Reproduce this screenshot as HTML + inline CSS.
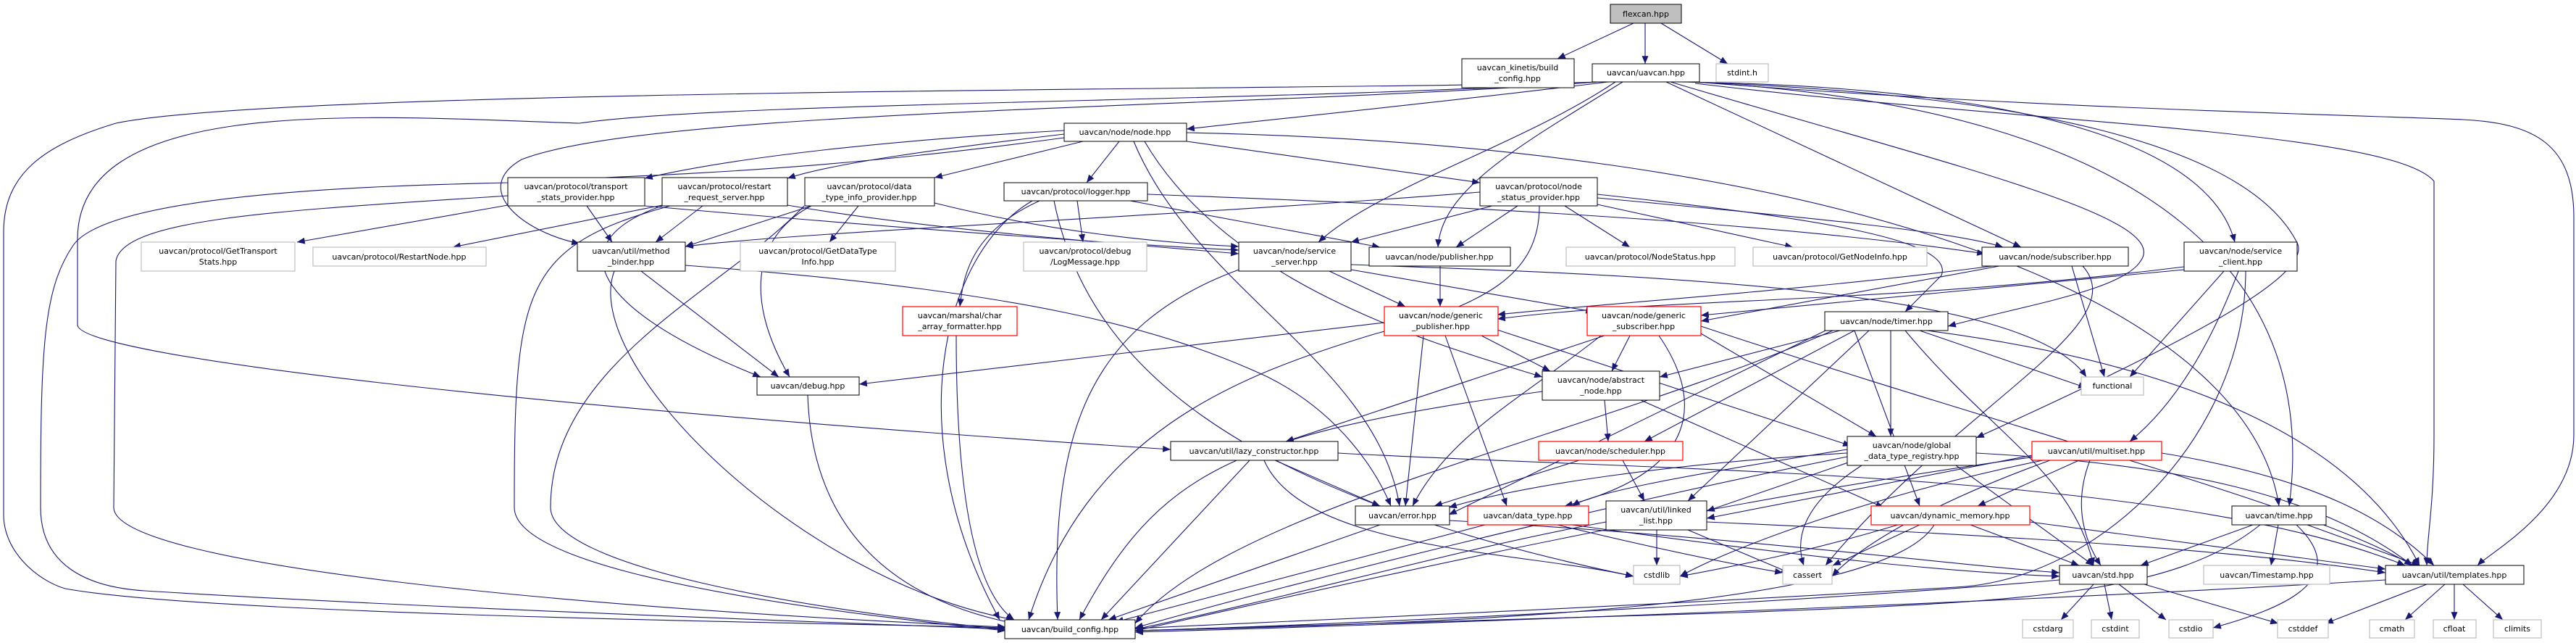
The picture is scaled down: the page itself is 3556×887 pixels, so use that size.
<!DOCTYPE html>
<html><head><meta charset="utf-8"><style>
html,body{margin:0;padding:0;background:#fff;width:3556px;height:887px;overflow:hidden}
svg{display:block}
text{font-family:"DejaVu Sans","Liberation Sans",sans-serif;font-size:11px;fill:#000}
.e{fill:none;stroke:#191970;stroke-width:1.1;marker-end:url(#a)}
.n rect{fill:#fff;stroke:#000;stroke-width:1}
.g rect{fill:#fff;stroke:#bfbfbf;stroke-width:1.2}
.r rect{fill:#fff;stroke:#ff0000;stroke-width:1.2}
</style></head><body>
<svg width="3556" height="887" viewBox="0 0 3556 887" xmlns="http://www.w3.org/2000/svg">
<defs><marker id="a" viewBox="0 0 12 10" refX="12" refY="5" markerWidth="12" markerHeight="9" markerUnits="userSpaceOnUse" orient="auto"><path d="M0,0 L12,5 L0,10 z" fill="#191970"/></marker></defs>
<g>
<path class="e" d="M2255,32 L2150,81"/>
<path class="e" d="M2271,32 L2271,88"/>
<path class="e" d="M2293,32 L2385,88"/>
<path class="e" d="M2220,113 C2000,140 1800,160 1638,178"/>
<path class="e" d="M2205,113 C1900,125 400,120 160,170 C60,200 5,240 5,320 L5,710 C5,760 50,800 90,812 C300,850 1200,860 1388,866"/>
<path class="e" d="M2205,113 C1800,140 1000,140 800,170 C500,160 107,130 107,330 L107,448 C107,490 700,560 1616,620"/>
<path class="e" d="M2205,113 C1700,150 900,150 720,220 C650,260 720,320 800,336"/>
<path class="e" d="M2230,113 C2100,200 1900,260 1820,334"/>
<path class="e" d="M2240,113 C2100,200 1990,260 1985,341"/>
<path class="e" d="M2300,113 L2790,341"/>
<path class="e" d="M2306,113 C2700,230 3000,300 2955,360 C2930,400 2800,420 2689,450"/>
<path class="e" d="M2320,113 C2800,120 3050,200 3085,334"/>
<path class="e" d="M2330,113 C2800,130 3100,200 3170,333 C3200,380 3000,480 2728,604"/>
<path class="e" d="M2335,113 C3000,150 3200,400 3160,698"/>
<path class="e" d="M2340,113 C2800,150 3300,160 3400,165 C3500,170 3553,200 3553,300 L3553,600 C3553,700 3440,760 3420,780"/>
<path class="e" d="M2340,115 C2800,170 3300,180 3360,250 L3360,600 C3360,700 3350,740 3350,780"/>
<path class="e" d="M1469,180 C1200,195 1000,220 890,246"/>
<path class="e" d="M1469,185 C1300,205 1150,225 1087,246"/>
<path class="e" d="M1495,195 L1290,245"/>
<path class="e" d="M1545,195 L1500,252"/>
<path class="e" d="M1638,195 L2043,252"/>
<path class="e" d="M1469,190 C1100,240 900,240 700,252 C600,255 150,260 100,340 C60,400 56,480 56,700 C56,780 120,810 200,815 C600,840 1200,860 1388,868"/>
<path class="e" d="M1565,195 C1650,400 1900,500 1932,698"/>
<path class="e" d="M1580,195 C1700,400 2000,480 2129,520"/>
<path class="e" d="M1638,183 C2500,200 3100,400 3146,698"/>
<path class="e" d="M701,283 L410,334"/>
<path class="e" d="M810,284 L845,334"/>
<path class="e" d="M890,284 C1300,320 1600,340 1710,345"/>
<path class="e" d="M701,270 C400,290 170,300 160,360 L157,700 C157,780 800,840 1388,865"/>
<path class="e" d="M914,283 L625,341"/>
<path class="e" d="M970,284 L905,334"/>
<path class="e" d="M1087,283 C1300,320 1600,340 1710,350"/>
<path class="e" d="M914,284 C780,330 800,420 1050,520"/>
<path class="e" d="M925,284 C720,340 710,400 710,700 C710,760 900,820 1388,870"/>
<path class="e" d="M1185,284 L1145,334"/>
<path class="e" d="M1120,284 L946,340"/>
<path class="e" d="M1290,280 C1450,320 1600,335 1710,340"/>
<path class="e" d="M1120,284 C1050,320 1020,400 1090,520"/>
<path class="e" d="M1110,284 C1000,400 760,500 760,700 C760,780 1100,840 1388,868"/>
<path class="e" d="M1487,277 L1495,334"/>
<path class="e" d="M1435,277 C1340,320 1330,380 1325,423"/>
<path class="e" d="M1560,277 L1905,341"/>
<path class="e" d="M1425,277 C1300,350 1240,600 1380,855"/>
<path class="e" d="M1455,277 C1500,500 1700,680 2255,795"/>
<path class="e" d="M1584,268 C1900,280 2400,300 2740,350"/>
<path class="e" d="M2043,265 C1600,300 1100,320 946,340"/>
<path class="e" d="M2060,284 L1865,334"/>
<path class="e" d="M2095,284 L2010,341"/>
<path class="e" d="M2160,284 L2250,341"/>
<path class="e" d="M2205,282 L2475,341"/>
<path class="e" d="M2205,273 C2500,300 2700,320 2765,341"/>
<path class="e" d="M2205,268 C2500,300 2700,330 2680,380 L2630,430"/>
<path class="e" d="M2125,284 C2125,380 2050,420 1900,460 C1700,520 1500,600 1420,855"/>
<path class="e" d="M885,374 L1075,520"/>
<path class="e" d="M848,374 C800,500 1100,800 1400,855"/>
<path class="e" d="M946,366 C1400,400 1600,450 1750,520 C1850,570 1900,650 1920,698"/>
<path class="e" d="M1835,374 L1940,423"/>
<path class="e" d="M1865,372 L2200,430"/>
<path class="e" d="M1710,372 C1500,450 1450,600 1460,855"/>
<path class="e" d="M1865,365 C2300,380 2800,400 2880,520"/>
<path class="e" d="M1988,367 L1988,423"/>
<path class="e" d="M2750,367 C2500,400 2200,420 2067,434"/>
<path class="e" d="M2760,367 L2348,443"/>
<path class="e" d="M2860,367 L2905,520"/>
<path class="e" d="M2875,367 C2950,450 2700,560 2520,780"/>
<path class="e" d="M3015,372 L2348,435"/>
<path class="e" d="M3070,374 L2940,520"/>
<path class="e" d="M3090,374 C3050,480 3000,560 2940,609"/>
<path class="e" d="M3100,374 C3100,600 2900,800 2700,810 C2200,840 1700,860 1567,867"/>
<path class="e" d="M3015,368 C2600,420 2300,410 2067,440"/>
<path class="e" d="M1911,445 L1186,530"/>
<path class="e" d="M2045,463 L2140,512"/>
<path class="e" d="M1965,463 L1940,698"/>
<path class="e" d="M1995,463 L2080,698"/>
<path class="e" d="M2067,455 L2555,615"/>
<path class="e" d="M2250,463 L2225,512"/>
<path class="e" d="M2210,463 C2100,550 2000,600 1950,698"/>
<path class="e" d="M2290,463 C2350,550 2350,650 2160,698"/>
<path class="e" d="M2215,463 L1775,609"/>
<path class="e" d="M2348,460 L2590,602"/>
<path class="e" d="M2348,450 C2800,600 3200,700 3330,780"/>
<path class="e" d="M2540,456 L2291,520"/>
<path class="e" d="M2560,456 L2270,609"/>
<path class="e" d="M2610,456 L2610,602"/>
<path class="e" d="M2650,456 L2880,535"/>
<path class="e" d="M2580,456 L2330,691"/>
<path class="e" d="M2630,456 C2750,600 2860,650 2890,780"/>
<path class="e" d="M2660,456 C3000,500 3250,600 3340,780"/>
<path class="e" d="M2530,456 C2200,600 1700,700 1567,860"/>
<path class="e" d="M2520,456 L2000,710"/>
<path class="e" d="M2560,456 L2650,698"/>
<path class="e" d="M1320,463 C1320,700 1350,820 1400,855"/>
<path class="e" d="M1115,545 C1120,700 1200,820 1400,860"/>
<path class="e" d="M2215,552 L2220,609"/>
<path class="e" d="M2265,552 L2600,700"/>
<path class="e" d="M2129,540 C1700,600 1600,650 1490,855"/>
<path class="e" d="M1760,635 L1905,698"/>
<path class="e" d="M1745,635 C1800,760 2100,760 2255,795"/>
<path class="e" d="M1725,635 L1520,855"/>
<path class="e" d="M1847,625 C2300,650 3000,650 3320,780"/>
<path class="e" d="M2180,635 L1980,698"/>
<path class="e" d="M2240,635 L2270,691"/>
<path class="e" d="M2550,620 C2300,660 2200,680 2170,698"/>
<path class="e" d="M2560,635 L2356,705"/>
<path class="e" d="M2700,642 L2890,780"/>
<path class="e" d="M2570,642 C2480,700 2480,750 2490,780"/>
<path class="e" d="M2728,625 C3000,640 3200,680 3330,780"/>
<path class="e" d="M2550,630 C2200,700 1800,800 1567,866"/>
<path class="e" d="M2550,625 C2300,640 2100,670 2000,700"/>
<path class="e" d="M2870,635 L2730,698"/>
<path class="e" d="M2830,635 C2650,700 2560,760 2529,795"/>
<path class="e" d="M2885,635 C2860,700 2880,750 2900,780"/>
<path class="e" d="M2820,635 C2600,680 2400,750 2319,795"/>
<path class="e" d="M2810,630 C2300,700 1800,820 1567,870"/>
<path class="e" d="M2984,625 C3200,660 3300,720 3360,780"/>
<path class="e" d="M2805,628 L2356,715"/>
<path class="e" d="M1905,724 L1530,855"/>
<path class="e" d="M2000,718 C2400,740 2700,780 2843,790"/>
<path class="e" d="M2050,724 L1540,858"/>
<path class="e" d="M2150,724 C2300,760 2400,780 2461,790"/>
<path class="e" d="M2170,724 C2500,770 2700,790 2843,795"/>
<path class="e" d="M2287,731 L2287,780"/>
<path class="e" d="M2330,731 L2470,790"/>
<path class="e" d="M2356,720 C2800,740 3100,760 3293,790"/>
<path class="e" d="M2217,720 C2000,760 1800,820 1567,868"/>
<path class="e" d="M2720,724 L2870,780"/>
<path class="e" d="M2650,724 L2530,780"/>
<path class="e" d="M2620,724 C2500,760 2400,780 2319,795"/>
<path class="e" d="M2670,724 C2600,840 2000,860 1567,870"/>
<path class="e" d="M2802,720 L3293,785"/>
<path class="e" d="M3110,724 L2955,780"/>
<path class="e" d="M3145,724 L3135,780"/>
<path class="e" d="M3170,724 C3250,800 3150,840 3055,866"/>
<path class="e" d="M3185,724 L3340,780"/>
<path class="e" d="M3120,724 C3000,820 2800,830 2400,845 C1900,860 1700,868 1567,870"/>
<path class="e" d="M2890,806 L2845,855"/>
<path class="e" d="M2905,806 L2915,855"/>
<path class="e" d="M2925,806 L2990,855"/>
<path class="e" d="M2960,806 L3145,860"/>
<path class="e" d="M2843,800 C2500,830 1900,860 1567,870"/>
<path class="e" d="M3350,806 L3210,860"/>
<path class="e" d="M3375,806 L3320,855"/>
<path class="e" d="M3388,806 L3388,855"/>
<path class="e" d="M3400,806 L3455,855"/>
<path class="e" d="M3293,800 C2800,830 2000,860 1567,872"/>
</g>
<g>
<g class="n"><rect x="2223" y="6" width="98" height="26" style="fill:#bfbfbf"/><text x="2272" y="23" text-anchor="middle">flexcan.hpp</text></g>
<g class="n"><rect x="2018" y="81" width="155" height="40"/><text x="2095" y="97" text-anchor="middle">uavcan_kinetis/build</text><text x="2095" y="112" text-anchor="middle">_config.hpp</text></g>
<g class="n"><rect x="2198" y="88" width="148" height="25"/><text x="2272" y="104" text-anchor="middle">uavcan/uavcan.hpp</text></g>
<g class="g"><rect x="2369" y="88" width="72" height="25"/><text x="2405" y="104" text-anchor="middle">stdint.h</text></g>
<g class="n"><rect x="1469" y="170" width="169" height="25"/><text x="1553" y="186" text-anchor="middle">uavcan/node/node.hpp</text></g>
<g class="n"><rect x="701" y="245" width="189" height="39"/><text x="795" y="261" text-anchor="middle">uavcan/protocol/transport</text><text x="795" y="276" text-anchor="middle">_stats_provider.hpp</text></g>
<g class="n"><rect x="914" y="245" width="173" height="39"/><text x="1000" y="261" text-anchor="middle">uavcan/protocol/restart</text><text x="1000" y="276" text-anchor="middle">_request_server.hpp</text></g>
<g class="n"><rect x="1111" y="245" width="179" height="39"/><text x="1200" y="261" text-anchor="middle">uavcan/protocol/data</text><text x="1200" y="276" text-anchor="middle">_type_info_provider.hpp</text></g>
<g class="n"><rect x="1386" y="252" width="198" height="25"/><text x="1485" y="268" text-anchor="middle">uavcan/protocol/logger.hpp</text></g>
<g class="n"><rect x="2043" y="245" width="162" height="39"/><text x="2124" y="261" text-anchor="middle">uavcan/protocol/node</text><text x="2124" y="276" text-anchor="middle">_status_provider.hpp</text></g>
<g class="g"><rect x="195" y="334" width="212" height="40"/><text x="301" y="350" text-anchor="middle">uavcan/protocol/GetTransport</text><text x="301" y="365" text-anchor="middle">Stats.hpp</text></g>
<g class="g"><rect x="432" y="341" width="239" height="26"/><text x="551" y="358" text-anchor="middle">uavcan/protocol/RestartNode.hpp</text></g>
<g class="n"><rect x="797" y="334" width="149" height="40"/><text x="871" y="350" text-anchor="middle">uavcan/util/method</text><text x="871" y="365" text-anchor="middle">_binder.hpp</text></g>
<g class="g"><rect x="1022" y="334" width="214" height="40"/><text x="1129" y="350" text-anchor="middle">uavcan/protocol/GetDataType</text><text x="1129" y="365" text-anchor="middle">Info.hpp</text></g>
<g class="g"><rect x="1413" y="334" width="170" height="40"/><text x="1498" y="350" text-anchor="middle">uavcan/protocol/debug</text><text x="1498" y="365" text-anchor="middle">/LogMessage.hpp</text></g>
<g class="n"><rect x="1710" y="334" width="155" height="40"/><text x="1787" y="350" text-anchor="middle">uavcan/node/service</text><text x="1787" y="365" text-anchor="middle">_server.hpp</text></g>
<g class="n"><rect x="1890" y="341" width="195" height="26"/><text x="1987" y="358" text-anchor="middle">uavcan/node/publisher.hpp</text></g>
<g class="g"><rect x="2162" y="341" width="233" height="26"/><text x="2278" y="358" text-anchor="middle">uavcan/protocol/NodeStatus.hpp</text></g>
<g class="g"><rect x="2420" y="341" width="240" height="26"/><text x="2540" y="358" text-anchor="middle">uavcan/protocol/GetNodeInfo.hpp</text></g>
<g class="n"><rect x="2736" y="341" width="202" height="26"/><text x="2837" y="358" text-anchor="middle">uavcan/node/subscriber.hpp</text></g>
<g class="n"><rect x="3015" y="334" width="156" height="40"/><text x="3093" y="350" text-anchor="middle">uavcan/node/service</text><text x="3093" y="365" text-anchor="middle">_client.hpp</text></g>
<g class="r"><rect x="1246" y="423" width="158" height="40"/><text x="1325" y="439" text-anchor="middle">uavcan/marshal/char</text><text x="1325" y="454" text-anchor="middle">_array_formatter.hpp</text></g>
<g class="r"><rect x="1911" y="423" width="157" height="40"/><text x="1989" y="439" text-anchor="middle">uavcan/node/generic</text><text x="1989" y="454" text-anchor="middle">_publisher.hpp</text></g>
<g class="r"><rect x="2191" y="423" width="157" height="40"/><text x="2269" y="439" text-anchor="middle">uavcan/node/generic</text><text x="2269" y="454" text-anchor="middle">_subscriber.hpp</text></g>
<g class="n"><rect x="2519" y="430" width="170" height="26"/><text x="2604" y="447" text-anchor="middle">uavcan/node/timer.hpp</text></g>
<g class="n"><rect x="1045" y="520" width="141" height="25"/><text x="1115" y="536" text-anchor="middle">uavcan/debug.hpp</text></g>
<g class="g"><rect x="2873" y="520" width="86" height="25"/><text x="2916" y="536" text-anchor="middle">functional</text></g>
<g class="n"><rect x="2129" y="512" width="162" height="40"/><text x="2210" y="528" text-anchor="middle">uavcan/node/abstract</text><text x="2210" y="543" text-anchor="middle">_node.hpp</text></g>
<g class="n"><rect x="1616" y="609" width="231" height="26"/><text x="1731" y="626" text-anchor="middle">uavcan/util/lazy_constructor.hpp</text></g>
<g class="r"><rect x="2124" y="609" width="199" height="26"/><text x="2223" y="626" text-anchor="middle">uavcan/node/scheduler.hpp</text></g>
<g class="n"><rect x="2550" y="602" width="178" height="40"/><text x="2639" y="618" text-anchor="middle">uavcan/node/global</text><text x="2639" y="633" text-anchor="middle">_data_type_registry.hpp</text></g>
<g class="r"><rect x="2805" y="609" width="179" height="26"/><text x="2894" y="626" text-anchor="middle">uavcan/util/multiset.hpp</text></g>
<g class="n"><rect x="1871" y="698" width="130" height="26"/><text x="1936" y="715" text-anchor="middle">uavcan/error.hpp</text></g>
<g class="r"><rect x="2026" y="698" width="167" height="26"/><text x="2109" y="715" text-anchor="middle">uavcan/data_type.hpp</text></g>
<g class="n"><rect x="2217" y="691" width="139" height="40"/><text x="2286" y="707" text-anchor="middle">uavcan/util/linked</text><text x="2286" y="722" text-anchor="middle">_list.hpp</text></g>
<g class="r"><rect x="2583" y="698" width="219" height="26"/><text x="2692" y="715" text-anchor="middle">uavcan/dynamic_memory.hpp</text></g>
<g class="n"><rect x="3081" y="698" width="130" height="26"/><text x="3146" y="715" text-anchor="middle">uavcan/time.hpp</text></g>
<g class="g"><rect x="2255" y="780" width="64" height="26"/><text x="2287" y="797" text-anchor="middle">cstdlib</text></g>
<g class="g"><rect x="2461" y="780" width="68" height="26"/><text x="2495" y="797" text-anchor="middle">cassert</text></g>
<g class="n"><rect x="2843" y="780" width="121" height="26"/><text x="2903" y="797" text-anchor="middle">uavcan/std.hpp</text></g>
<g class="g"><rect x="3042" y="780" width="174" height="26"/><text x="3129" y="797" text-anchor="middle">uavcan/Timestamp.hpp</text></g>
<g class="n"><rect x="3293" y="780" width="191" height="26"/><text x="3388" y="797" text-anchor="middle">uavcan/util/templates.hpp</text></g>
<g class="n"><rect x="1387" y="855" width="180" height="26"/><text x="1477" y="872" text-anchor="middle">uavcan/build_config.hpp</text></g>
<g class="g"><rect x="2792" y="855" width="70" height="25"/><text x="2827" y="871" text-anchor="middle">cstdarg</text></g>
<g class="g"><rect x="2887" y="855" width="66" height="25"/><text x="2920" y="871" text-anchor="middle">cstdint</text></g>
<g class="g"><rect x="2994" y="855" width="61" height="25"/><text x="3024" y="871" text-anchor="middle">cstdio</text></g>
<g class="g"><rect x="3144" y="855" width="70" height="25"/><text x="3179" y="871" text-anchor="middle">cstddef</text></g>
<g class="g"><rect x="3271" y="855" width="62" height="25"/><text x="3302" y="871" text-anchor="middle">cmath</text></g>
<g class="g"><rect x="3359" y="855" width="59" height="25"/><text x="3388" y="871" text-anchor="middle">cfloat</text></g>
<g class="g"><rect x="3442" y="855" width="66" height="25"/><text x="3475" y="871" text-anchor="middle">climits</text></g>
</g>
</svg>
</body></html>
